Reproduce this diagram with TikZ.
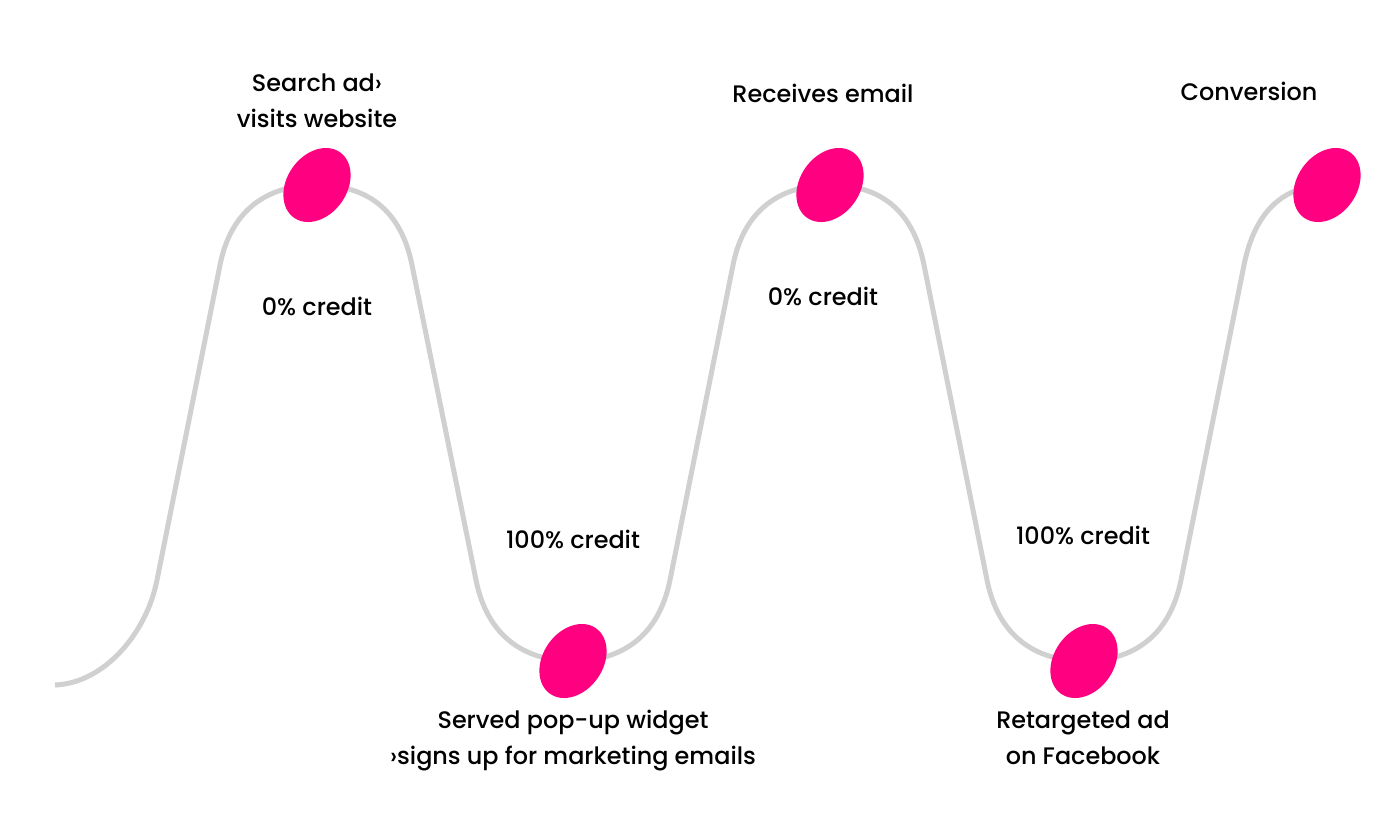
\documentclass[tikz,border=0pt]{standalone}
\usepackage{fontspec}
\IfFontExistsTF{Poppins Medium}{\setmainfont{Poppins Medium}}{\setmainfont{Poppins}}
\usetikzlibrary{shapes.geometric,backgrounds}
\definecolor{hotpink}{HTML}{FF0080}
\definecolor{wavegray}{HTML}{D0D0D0}

\begin{document}
\begin{tikzpicture}[x=0.02cm,y=-0.02cm]
\tikzstyle{dot}=[ellipse,fill=hotpink,inner sep=0pt,minimum width=1.6cm,minimum height=1.2cm,rotate=55];
\tikzstyle{lbl}=[anchor=base,align=center,font=\fontsize{13.6}{20.2}\selectfont,inner sep=0pt];
\tikzstyle{wave}=[draw=wavegray,line width=0.1cm];
\useasboundingbox (0,0) rectangle (1394,826);
\coordinate (s) at (55,685);
\node[dot] (d1) at (317,185) {};
\node[dot] (d2) at (573,661) {};
\node[dot] (d3) at (830,185) {};
\node[dot] (d4) at (1084,661) {};
\node[dot] (d5) at (1327,185) {};
% the wave, behind the dots
\begin{pgfonlayer}{background}
\draw[wave] (s) .. controls (105,683) and (147,632) .. (157,580) -- (220,265) .. controls (231,210) and (267,185) .. (d1.center);
\draw[wave] (d1.center) .. controls (367,185) and (401,210) .. (412,265) -- (476,580) .. controls (487,635) and (523,661) .. (d2.center);
\draw[wave] (d2.center) .. controls (623,661) and (659,635) .. (670,580) -- (733,265) .. controls (744,210) and (780,185) .. (d3.center);
\draw[wave] (d3.center) .. controls (880,185) and (913,210) .. (924,265) -- (987,580) .. controls (998,635) and (1034,661) .. (d4.center);
\draw[wave] (d4.center) .. controls (1134,661) and (1170,635) .. (1181,580) -- (1244,265) .. controls (1255,210) and (1285,185) .. (d5.center);
\end{pgfonlayer}
% labels
\node[lbl] (t1) at (317,127) {Search ad›\\visits website};
\node[lbl] (t2) at (823,102) {Receives email};
\node[lbl] (t3) at (1249,100) {Conversion};
\node[lbl] (c1) at (317,315) {0\% credit};
\node[lbl] (c2) at (823,305) {0\% credit};
\node[lbl] (c3) at (573,548) {100\% credit};
\node[lbl] (c4) at (1083,544) {100\% credit};
\node[lbl] (b1) at (573,764) {Served pop-up widget\\›signs up for marketing emails};
\node[lbl] (b2) at (1083,764) {Retargeted ad\\on Facebook};
\end{tikzpicture}
\end{document}
